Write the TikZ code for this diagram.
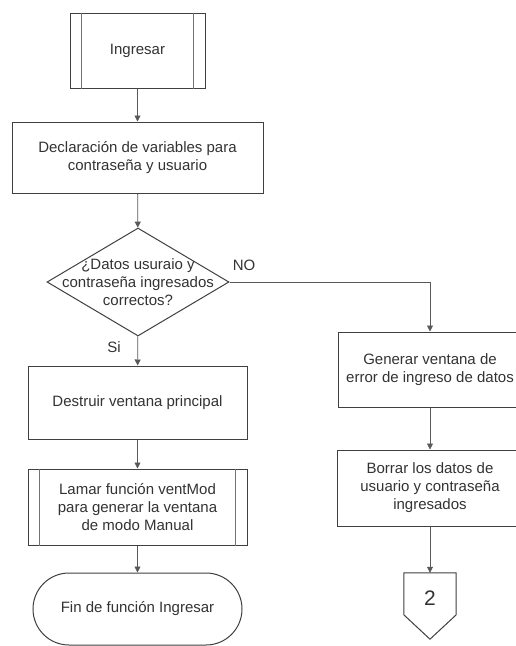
\documentclass[tikz,border=0pt]{standalone}
\usepackage{fontspec}
\setmainfont{Liberation Sans}
\usetikzlibrary{arrows.meta,shapes.geometric,shapes.misc,calc}

\tikzset{
  txt/.style={font=\fontsize{15}{18}\selectfont, text=black!80, align=center},
  procbox/.style={txt, draw=black!75, line width=1pt, rectangle, inner sep=0pt},
  decision/.style={draw=black!75, line width=1pt, diamond, inner sep=0pt},
  terminal/.style={txt, draw=black!75, line width=1pt, rounded rectangle, inner sep=0pt},
  flow/.style={draw=black!65, line width=0.8pt, -{Triangle[width=6pt,length=6pt]}},
  lbl/.style={font=\fontsize{15}{18}\selectfont, text=black!80},
  subline/.style={draw=black!55, line width=1.6pt},
}

\begin{document}
\begin{tikzpicture}[x=1pt,y=-1pt]
\useasboundingbox (0,0) rectangle (516,646);
\fill[white] (0,0) rectangle (516,646);

% main column
\node[procbox, minimum width=135, minimum height=75] (ing) at (137.5,50.5) {Ingresar};
\node[procbox, minimum width=251, minimum height=71] (decl) at (137.5,157.5)
  {Declaración de variables para\\contraseña y usuario};
\node[decision, minimum width=182, minimum height=108,
  label={[txt]center:{¿Datos usuraio y\\contraseña ingresados\\correctos?}}] (dec) at (138,282) {};
\node[procbox, minimum width=219, minimum height=73] (dest) at (137.5,402.5)
  {Destruir ventana principal};
\node[procbox, minimum width=219, minimum height=76] (llam) at (137.5,507)
  {Lamar función ventMod\\para generar la ventana\\de modo Manual};
\node[terminal, minimum width=209, minimum height=72] (fin) at (137.5,609)
  {Fin de función Ingresar};

% right column
\node[procbox, minimum width=184, minimum height=75] (gen) at (430,369.5)
  {Generar ventana de\\error de ingreso de datos};
\node[procbox, minimum width=185, minimum height=76] (bor) at (430,488)
  {Borrar los datos de\\usuario y contraseña\\ingresados};
\node[minimum width=52, minimum height=66, inner sep=0pt] (con) at (430,606) {};
\node[font=\fontsize{21}{24}\selectfont, text=black!80] (two) at (430,598) {2};

% inner bars of the subprocess boxes
\draw[subline] ($(ing.north west)+(12,0)$) -- ($(ing.south west)+(12,0)$);
\draw[subline] ($(ing.north east)+(-12,0)$) -- ($(ing.south east)+(-12,0)$);
\draw[subline] ($(llam.north west)+(12,0)$) -- ($(llam.south west)+(12,0)$);
\draw[subline] ($(llam.north east)+(-12,0)$) -- ($(llam.south east)+(-12,0)$);

% off-page connector outline
\draw[draw=black!75, line width=1pt] (con.north west) -- (con.north east)
  -- ($(con.north east)+(0,42)$) -- (con.south) -- ($(con.north west)+(0,42)$) -- cycle;

% connectors
\draw[flow] (ing) -- (decl);
\draw[flow] (decl) -- (dec);
\draw[flow] (dec) -- (dest);
\draw[flow] (dest) -- (llam);
\draw[flow] (llam) -- (fin);
\draw[flow] (dec.east) -| (gen.north);
\draw[flow] (gen) -- (bor);
\draw[flow] (bor) -- (con);

% branch labels
\node[lbl] (no) at (244,265) {NO};
\node[lbl] (si) at (114,347) {Si};
\end{tikzpicture}
\end{document}
